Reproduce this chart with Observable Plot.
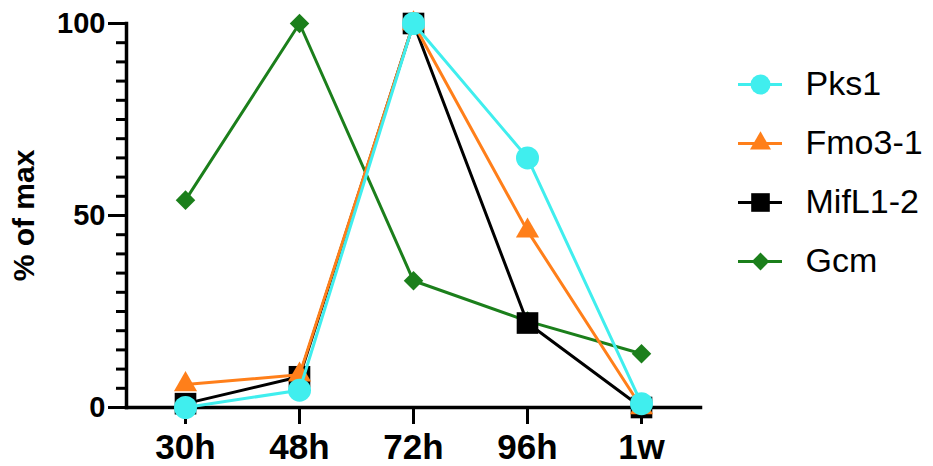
<!DOCTYPE html>
<html><head><meta charset="utf-8">
<script src="https://cdn.jsdelivr.net/npm/d3@7"></script>
<script src="https://cdn.jsdelivr.net/npm/@observablehq/plot@0.6"></script>
<style>
body{margin:0;background:#fff;}
#wrap{position:relative;width:933px;height:466px;}
#chart,#legend{position:absolute;top:0;}
#chart{left:0;}
#legend{left:700px;}
</style>
</head><body><div id="wrap"><div id="chart"></div><div id="legend"></div></div>
<script>
const categories = ["30h", "48h", "72h", "96h", "1w"];
const seriesNames = ["Pks1", "Fmo3-1", "MifL1-2", "Gcm"];
const pks1 = [0, 4.5, 100, 65, 1];
const fmo3 = [6, 8.5, 100, 46, 0];
const mifl = [1, 8, 100, 22, 0];
const gcm = [54, 100, 33, 22.5, 14];
const yMajorTicks = [0, 50, 100];
const yMinorTicks = d3.range(0, 101, 5);
const yLabel = "% of max";

const colors = ["#40eeee", "#ff7f1a", "#000000", "#1b7f1b"];
const symbols = ["circle", "triangle", "square", "diamond2"];
const radii = [11.5, 8.6, 12.2, 8.8];
const legendRadii = [10, 7.8, 10.5, 8];

const valuesBySeries = [pks1, fmo3, mifl, gcm];
const data = seriesNames.flatMap((s, i) =>
  categories.map((c, j) => ({series: s, t: c, v: valuesBySeries[i][j]})));

const font = "Arial, 'Liberation Sans', sans-serif";
const drawOrder = [3, 2, 1, 0];
const seriesMarks = drawOrder.flatMap(i => {
  const d = data.filter(r => r.series === seriesNames[i]);
  return [
    Plot.line(d, {x: "t", y: "v", stroke: colors[i], strokeWidth: 3}),
    Plot.dot(d, {x: "t", y: "v", symbol: () => symbols[i], r: radii[i], fill: colors[i], stroke: "none"})
  ];
});

const chart = Plot.plot({
  width: 933, height: 466,
  marginLeft: 126, marginRight: 233, marginTop: 23, marginBottom: 59,
  style: {fontFamily: font, color: "#000", background: "#fff", overflow: "visible"},
  x: {type: "point", domain: categories, padding: 0.5},
  y: {domain: [0, 100]},
  symbol: {type: "identity"},
  marks: [
    Plot.axisY({ticks: yMinorTicks, tickFormat: () => "", tickSize: 10, strokeWidth: 3, label: null}),
    Plot.axisY({ticks: yMajorTicks, tickSize: 18, tickPadding: 3, strokeWidth: 3,
      fontSize: 29, fontWeight: "bold", label: yLabel, labelAnchor: "center", labelArrow: "none", labelOffset: 114}),
    Plot.axisX({tickSize: 17, tickPadding: 10, strokeWidth: 3, fontSize: 35, fontWeight: "bold", label: null}),
    Plot.frame({anchor: "left", strokeWidth: 3.5}),
    Plot.frame({anchor: "bottom", strokeWidth: 3.5}),
    ...seriesMarks
  ]
});
chart.querySelectorAll("g[aria-label='y-axis label'] text").forEach(t => { t.setAttribute("font-size", 30); t.setAttribute("font-weight", "bold"); });
document.getElementById("chart").appendChild(chart);

const legendData = seriesNames.map((s, i) => ({series: s, i}));
const legend = Plot.plot({
  width: 233, height: 466, margin: 0,
  style: {fontFamily: font, color: "#000", background: "transparent", overflow: "visible"},
  x: {type: "identity", axis: null},
  y: {type: "point", domain: seriesNames, range: [84, 261], padding: 0, axis: null},
  symbol: {type: "identity"},
  marks: [
    Plot.ruleY(legendData, {y: "series", x1: 38, x2: 82, stroke: d => colors[d.i], strokeWidth: 3}),
    ...legendData.map(d => Plot.dot([d], {x: () => 60, y: "series", symbol: () => symbols[d.i], r: legendRadii[d.i], fill: colors[d.i], stroke: "none"})),
    Plot.text(legendData, {x: () => 105, y: "series", text: "series", textAnchor: "start", fontSize: 34, fill: "#000"})
  ]
});
document.getElementById("legend").appendChild(legend);
</script>
</body></html>
